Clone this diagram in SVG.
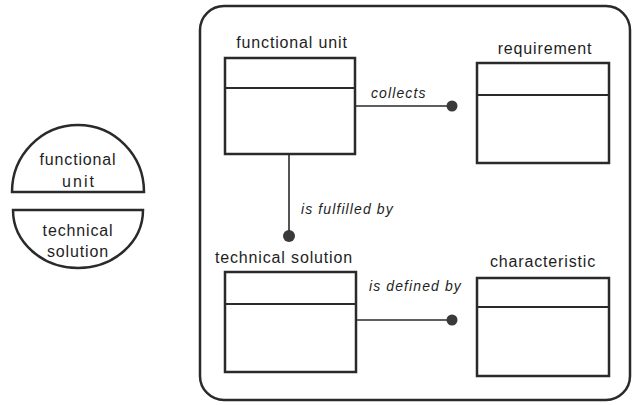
<svg xmlns="http://www.w3.org/2000/svg" width="633" height="405" viewBox="0 0 633 405">
<style>
.box{fill:none;stroke:#2a2a2a;stroke-width:2.5}
.div{stroke:#2a2a2a;stroke-width:1.8}
.lbl{font-family:"Liberation Sans",Arial,sans-serif;font-size:16px;fill:#1e1e1e;letter-spacing:0.85px;text-anchor:middle}
.rel{font-family:"Liberation Sans",Arial,sans-serif;font-size:14px;font-style:italic;fill:#1e1e1e;letter-spacing:1.1px}
.con{stroke:#2a2a2a;stroke-width:1.6;fill:none}
.dot{fill:#3a3a3a}
.frame{fill:none;stroke:#2a2a2a;stroke-width:2.5}
</style>
<rect width="633" height="405" fill="#ffffff"/>
<g id="legend">
<path class="frame" d="M12,192 A66,67 0 0 1 144,192 Z" stroke-width="2"/>
<path class="frame" d="M13,210 A65,58 0 0 0 143,210 Z" stroke-width="2"/>
<text class="lbl" x="78" y="165">functional</text>
<text class="lbl" x="79" y="187" style="letter-spacing:2px">unit</text>
<text class="lbl" x="78" y="236">technical</text>
<text class="lbl" x="78" y="257">solution</text>
</g>
<g id="container">
<rect class="frame" x="200" y="6" width="430" height="394" rx="24"/>
</g>
<g id="functional-unit">
<text class="lbl" x="292" y="48">functional unit</text>
<rect class="box" x="225" y="58" width="130" height="96"/>
<line class="div" x1="225" y1="88" x2="355" y2="88"/>
</g>
<g id="requirement">
<text class="lbl" x="545" y="54">requirement</text>
<rect class="box" x="477" y="63" width="132" height="100"/>
<line class="div" x1="477" y1="95" x2="609" y2="95"/>
</g>
<g id="technical-solution">
<text class="lbl" x="284" y="263">technical solution</text>
<rect class="box" x="225" y="272" width="131" height="100"/>
<line class="div" x1="225" y1="304" x2="356" y2="304"/>
</g>
<g id="characteristic">
<text class="lbl" x="543" y="267">characteristic</text>
<rect class="box" x="477" y="278" width="132" height="98"/>
<line class="div" x1="477" y1="307" x2="609" y2="307"/>
</g>
<g id="connectors">
<line class="con" x1="355" y1="106" x2="452" y2="106"/>
<circle class="dot" cx="452" cy="106" r="5.5"/>
<text class="rel" x="371" y="98">collects</text>
<line class="con" x1="289" y1="154" x2="289" y2="236"/>
<circle class="dot" cx="289" cy="236" r="6"/>
<text class="rel" x="301" y="214">is fulfilled by</text>
<line class="con" x1="356" y1="320" x2="452" y2="320"/>
<circle class="dot" cx="452" cy="320" r="5.5"/>
<text class="rel" x="369" y="291">is defined by</text>
</g>
</svg>
